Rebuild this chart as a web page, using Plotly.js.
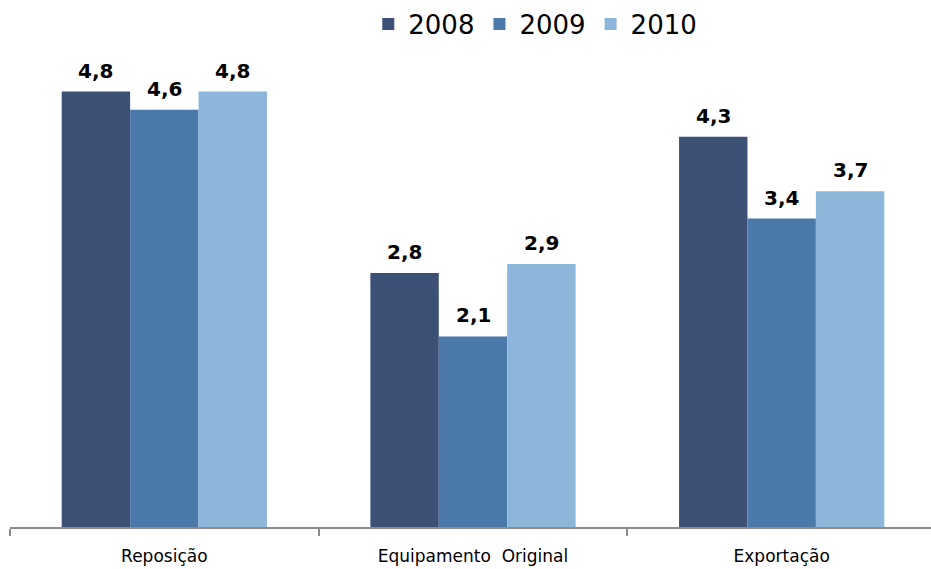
<!DOCTYPE html>
<html><head><meta charset="utf-8">
<script src="https://cdn.plot.ly/plotly-3.0.1.min.js"></script>
<style>html,body{margin:0;padding:0;background:#fff}</style>
</head><body>
<div id="chart" style="width:931px;height:569px"></div>
<script>
const categories = ["Reposição", "Equipamento  Original", "Exportação"];
const seriesNames = ["2008", "2009", "2010"];
const values2008 = [4.8, 2.8, 4.3];
const values2009 = [4.6, 2.1, 3.4];
const values2010 = [4.8, 2.9, 3.7];
const colors = ["#3D5177", "#4B79A9", "#8DB7DA"];

const allValues = [values2008, values2009, values2010];
const barPx = 68.4;
const traces = allValues.map((v, i) => ({
  type: "bar",
  name: seriesNames[i],
  x: categories,
  y: v,
  marker: {color: colors[i]},
  hoverinfo: "none"
}));

const annotations = [];
allValues.forEach((v, i) => {
  v.forEach((n, j) => {
    annotations.push({
      x: categories[j], y: n, xref: "x", yref: "y",
      text: n.toFixed(1).replace(".", ","),
      showarrow: false, xanchor: "center", yanchor: "bottom",
      xshift: (i - 1) * barPx, yshift: 7,
      font: {family: "DejaVu Sans", size: 20, color: "#000", weight: "bold"}
    });
  });
});

const layout = {
  width: 931, height: 569,
  margin: {l: 10, r: 0, t: 28, b: 42},
  paper_bgcolor: "#fff", plot_bgcolor: "#fff",
  barmode: "group", bargap: 0.335, bargroupgap: 0,
  font: {family: "DejaVu Sans", color: "#000"},
  separators: ",.",
  showlegend: true,
  legend: {orientation: "h", x: 0.389, xanchor: "left", y: 1.055, yanchor: "top",
           font: {size: 26, color: "#000"}, itemwidth: 30, tracegroupgap: 0},
  annotations: annotations,
  xaxis: {
    type: "category", range: [-0.5, 2.4838], fixedrange: true,
    showline: true, linecolor: "#8c8c8c", linewidth: 2,
    ticks: "outside", tickson: "boundaries", ticklen: 7, tickcolor: "#8c8c8c", tickwidth: 2,
    ticklabelstandoff: 13,
    tickfont: {size: 17, color: "#000"}, showgrid: false, zeroline: false
  },
  yaxis: {range: [0, 5.5], visible: false, showgrid: false, zeroline: false, fixedrange: true}
};

Plotly.newPlot("chart", traces, layout, {staticPlot: true});
</script>
</body></html>
